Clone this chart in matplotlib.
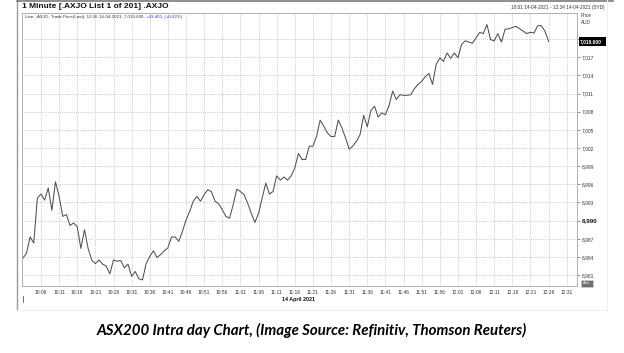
import numpy as np
import matplotlib
matplotlib.use("Agg")
import matplotlib.pyplot as plt
from matplotlib.patches import Rectangle
from matplotlib.lines import Line2D

# ---- data: 1-minute closes of .AXJO, 14 April 2021, from 10:01 to 12:26 ----
start_time = "10:01"
prices = [
    6983.8, 6984.6, 6987.3, 6986.3, 6993.7, 6994.4, 6993.4, 6995.4, 6991.7, 6996.4,
    6994.0, 6990.7, 6991.0, 6989.2, 6989.6, 6989.0, 6985.4, 6988.5, 6985.4, 6983.5,
    6982.9, 6983.5, 6982.8, 6982.5, 6981.2, 6983.5, 6983.3, 6983.4, 6982.2, 6982.8,
    6980.8, 6981.6, 6980.4, 6980.2, 6982.9, 6984.1, 6985.0, 6983.9, 6984.4, 6985.0,
    6985.5, 6987.3, 6987.3, 6986.6, 6988.2, 6990.1, 6991.5, 6993.2, 6994.0, 6993.2,
    6994.3, 6995.1, 6994.8, 6993.2, 6992.8, 6991.8, 6990.7, 6990.4, 6992.6, 6995.2,
    6994.8, 6994.3, 6992.9, 6991.2, 6989.7, 6991.2, 6993.7, 6996.2, 6994.4, 6994.8,
    6997.4, 6996.7, 6997.2, 6996.7, 6997.4, 6998.7, 7001.1, 7000.1, 7000.1, 7002.3,
    7002.3, 7003.9, 7006.6, 7005.6, 7004.5, 7003.9, 7003.9, 7006.6, 7005.3, 7003.7,
    7001.8, 7002.3, 7003.1, 7004.2, 7007.4, 7005.5, 7008.2, 7008.9, 7007.1, 7007.8,
    7007.5, 7009.0, 7011.4, 7010.0, 7010.8, 7010.7, 7010.7, 7010.8, 7011.8, 7012.5,
    7013.0, 7013.8, 7014.3, 7012.5, 7015.8, 7016.9, 7016.3, 7017.7, 7016.8, 7017.7,
    7016.9, 7019.1, 7019.7, 7019.5, 7019.3, 7020.2, 7021.1, 7020.9, 7022.4, 7019.9,
    7019.7, 7020.9, 7019.5, 7021.6, 7021.7, 7021.9, 7022.1, 7021.7, 7021.3, 7020.9,
    7021.1, 7021.0, 7022.2, 7022.2, 7021.3, 7019.6,
]
x_tick_labels = ["10:06", "10:11", "10:16", "10:21", "10:26", "10:31", "10:36", "10:41",
                 "10:46", "10:51", "10:56", "11:01", "11:06", "11:11", "11:16", "11:21",
                 "11:26", "11:31", "11:36", "11:41", "11:46", "11:51", "11:56", "12:01",
                 "12:06", "12:11", "12:16", "12:21", "12:26", "12:31"]
y_ticks = [6981, 6984, 6987, 6990, 6993, 6996, 6999, 7002, 7005, 7008, 7011, 7014, 7017, 7020]
last_label = "7,019.600"
header = "1 Minute [.AXJO List 1 of 201] .AXJO"
legend_black = "Line, .AXJO, Trade Price(Last), 12:26 14-04-2021, 7,019.600, "
legend_blue = "+43.400, (+0.62%)"
range_text = "10:01 14-04-2021 - 12:34 14-04-2021 (SYD)"
date_text = "14 April 2021"
caption = "ASX200 Intra day Chart, (Image Source: Refinitiv, Thomson Reuters)"


def to_min(s):
    h, m = s.split(":")
    return int(h) * 60 + int(m) - 600  # minutes after 10:00


t0 = to_min(start_time)
x = np.arange(t0, t0 + len(prices))
xt = [to_min(s) for s in x_tick_labels]

plt.rcParams['font.family'] = ['Liberation Sans', 'DejaVu Sans']
W, H = 624, 353
fig = plt.figure(figsize=(W / 100, H / 100), dpi=100)


def fx(px):
    return px / W


def fy(py):
    return 1 - py / H


L, R, T, B = 21.7, 577, 13, 286
ax = fig.add_axes([fx(L), fy(B), fx(R) - fx(L), fy(T) - fy(B)])
ax.plot(x, prices, color="#505050", lw=0.75, solid_joinstyle="round")
ax.set_xlim(0.68, 153.84)
ax.set_ylim(6979.2, 7024.3)

ax.set_xticks(xt)
ax.set_xticklabels(x_tick_labels)
ax.set_yticks(y_ticks)
# the top tick label sits behind the last-value box, so it is left blank
ax.set_yticklabels([f"{v:,}" if v != y_ticks[-1] else "" for v in y_ticks])
ax.yaxis.tick_right()
ax.tick_params(axis="x", length=0, pad=3, labelsize=3.5, colors="#333333")
ax.tick_params(axis="y", length=2.5, width=0.5, pad=1, labelsize=3.5,
               colors="#666666", labelcolor="#333333")
for lbl in ax.get_yticklabels():
    if lbl.get_text() == "6,990":
        lbl.set_fontweight("bold")
        lbl.set_fontsize(4.4)
        lbl.set_color("#111111")
ax.grid(True, color="#b0b0b0", lw=0.55, ls=(0, (1.0, 1.6)))
for s in ax.spines.values():
    s.set_color("#b0b0b0")
    s.set_linewidth(0.7)

# last value marker box
fig.patches.append(Rectangle((fx(579), fy(45.5)), fx(606) - fx(579), fy(37) - fy(45.5),
                             transform=fig.transFigure, facecolor="black", edgecolor="none",
                             zorder=5))
fig.text(fx(580), fy(41.2), last_label, color="white", fontsize=3.5, fontweight="bold",
         va="center", ha="left", zorder=6)

# frame lines of the screenshot
fig.add_artist(Line2D([fx(17), fx(17)], [fy(0), fy(310)], color="#9a9a9a", lw=1.0))
fig.add_artist(Line2D([fx(17), fx(613)], [fy(0.6), fy(0.6)], color="#7a7a7a", lw=1.2))
fig.add_artist(Line2D([fx(606.5), fx(606.5)], [fy(0), fy(310)], color="#eeeeee", lw=0.8))
fig.add_artist(Line2D([fx(17), fx(606.5)], [fy(310), fy(310)], color="#eeeeee", lw=0.8))

# texts
fig.text(fx(22), fy(6.8), header, fontsize=6.0, fontweight="bold", va="center", ha="left",
         color="#111111")
t1 = fig.text(fx(25), fy(16.8), legend_black, fontsize=3.2, va="center", ha="left",
              color="#333333")
fig.canvas.draw()
bb = t1.get_window_extent()
fig.text(bb.x1 / fig.bbox.width, fy(16.8), legend_blue, fontsize=3.2, va="center",
         ha="left", color="#2b2bd6")
fig.text(fx(605), fy(7.5), range_text, fontsize=3.4, va="center", ha="right", color="#333333")
fig.text(fx(581), fy(15.3), "Price", fontsize=3.4, va="center", ha="left", color="#333333")
fig.text(fx(581), fy(23), "AUD", fontsize=3.4, va="center", ha="left", color="#333333")
fig.text(fx(282), fy(299), date_text, fontsize=3.9, fontweight="bold", va="center",
         ha="left", color="#111111")
fig.add_artist(Line2D([fx(23), fx(23)], [fy(296), fy(302)], color="#555555", lw=0.6))

# small "Auto" box bottom right
fig.patches.append(Rectangle((fx(580.5), fy(286.5)), fx(592.5) - fx(580.5), fy(280) - fy(286.5),
                             transform=fig.transFigure, facecolor="#6e6e6e",
                             edgecolor="#cfcfcf", lw=0.5, zorder=5))
fig.text(fx(586.5), fy(283.3), "Auto", fontsize=2.6, color="white", va="center", ha="center",
         zorder=6)

fig.text(fx(311.5), fy(330), caption, fontsize=10.8, fontweight="bold", style="italic",
         va="center", ha="center", color="black", family=["Lato", "DejaVu Sans"])

fig.savefig("out.png", dpi=100, facecolor="white")
